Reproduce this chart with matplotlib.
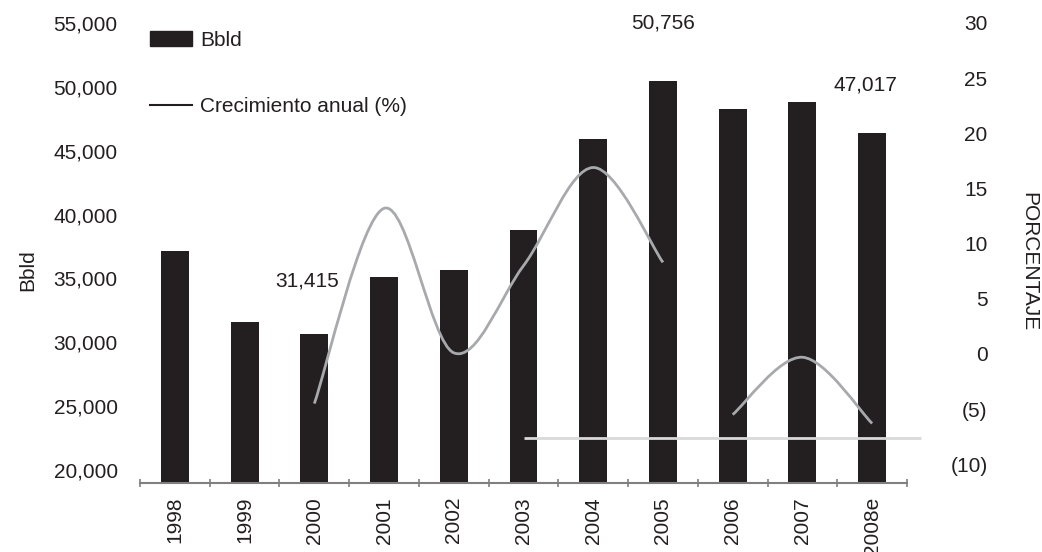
import numpy as np
import matplotlib
matplotlib.use('Agg')
import matplotlib.pyplot as plt
from matplotlib.path import Path
from matplotlib.patches import PathPatch
from matplotlib.lines import Line2D

plt.rcParams['font.family'] = ['Liberation Sans', 'DejaVu Sans']

# data
years = ['1998', '1999', '2000', '2001', '2002', '2003', '2004', '2005', '2006', '2007', '2008e']
bbld = [37150, 31590, 30650, 35110, 35660, 38790, 45920, 50460, 48270, 48810, 46390]

# annual growth (%), drawn as two separate smoothed pieces
growth_years_a = ['2000', '2001', '2002', '2003', '2004', '2005']
growth_a = [-4.5, 13.2, 0.1, 8.0, 16.9, 8.3]
growth_years_b = ['2006', '2007', '2008e']
growth_b = [-5.5, -0.3, -6.3]

# flat light grey series at the bottom
flat_value = -7.6
flat_from = '2003'

annot_labels = ['31,415', '50,756', '47,017']
annot_pos = [(1.9, 34800), (7.0, 55000), (9.9, 50150)]

dark = '#231f20'
grey_line = '#a7a9ac'
axis_grey = '#808080'


def smooth_path(xs, ys):
    # Catmull-Rom style cubic bezier through the points
    pts = np.column_stack([xs, ys]).astype(float)
    n = len(pts)
    verts = [tuple(pts[0])]
    codes = [Path.MOVETO]
    for i in range(n - 1):
        p0 = pts[i - 1] if i > 0 else pts[i]
        p1 = pts[i]
        p2 = pts[i + 1]
        p3 = pts[i + 2] if i + 2 < n else pts[i + 1]
        c1 = p1 + (p2 - p0) / 6
        c2 = p2 - (p3 - p1) / 6
        verts += [tuple(c1), tuple(c2), tuple(p2)]
        codes += [Path.CURVE4] * 3
    return Path(verts, codes)


fig = plt.figure(figsize=(10.42, 5.52), dpi=100)
ax = fig.add_axes([140 / 1042, 1 - 483 / 552, 767 / 1042, 460 / 552])

x = np.arange(len(years))
ax.bar(x, bbld, width=0.4, color=dark, zorder=2)
ax.set_xlim(-0.5, 10.5)
ax.set_ylim(18980, 55000)
ax.set_yticks(range(20000, 55001, 5000))
ax.set_yticklabels(['{:,}'.format(v) for v in range(20000, 55001, 5000)])
ax.tick_params(axis='y', length=0, pad=16, labelsize=15, labelcolor=dark)

ax.set_xticks(x)
ax.set_xticklabels(years, rotation=90, fontsize=15, color=dark)
ax.set_xticks(np.arange(-0.5, 11, 1), minor=True)
ax.tick_params(axis='x', which='major', length=0, pad=10)
ax.tick_params(axis='x', which='minor', direction='inout', length=6, width=1.2, color=axis_grey)

for s in ['top', 'right', 'left']:
    ax.spines[s].set_visible(False)
ax.spines['bottom'].set_color(axis_grey)
ax.spines['bottom'].set_linewidth(1.5)

ax2 = ax.twinx()
ax2.set_ylim(-11.7, 30)
rticks = list(range(-10, 31, 5))
ax2.set_yticks(rticks)
ax2.set_yticklabels(['({})'.format(-v) if v < 0 else str(v) for v in rticks])
ax2.tick_params(axis='y', length=0, pad=58, labelsize=15, labelcolor=dark)
for lab in ax2.get_yticklabels():
    lab.set_horizontalalignment('right')
for s in ax2.spines.values():
    s.set_visible(False)

xa = [years.index(y) for y in growth_years_a]
xb = [years.index(y) for y in growth_years_b]
for xs, ys in [(xa, growth_a), (xb, growth_b)]:
    ax2.add_patch(PathPatch(smooth_path(xs, ys), fill=False, edgecolor=grey_line,
                            linewidth=2, capstyle='butt'))

ax2.hlines(flat_value, years.index(flat_from), x[-1] + 0.7, colors='#d9d9d9',
           linewidth=2, clip_on=False)

for txt, (px, py) in zip(annot_labels, annot_pos):
    ax.text(px, py, txt, ha='center', va='center', fontsize=15, color=dark, clip_on=False)

handles = [plt.Rectangle((0, 0), 1, 1, color=dark), Line2D([], [], color=dark, lw=1.5)]
fig.legend(handles, ['Bbld', 'Crecimiento anual (%)'], loc='upper left',
           bbox_to_anchor=(150 / 1042, 1 - 31 / 552), frameon=False, fontsize=15,
           labelspacing=2.25, handlelength=2.0, handletextpad=0.4, borderpad=0,
           borderaxespad=0, labelcolor=dark)

fig.text(28 / 1042, 1 - 270 / 552, 'Bbld', rotation=90, ha='center', va='center',
         fontsize=15, color=dark)
fig.text(1029 / 1042, 1 - 262 / 552, 'PORCENTAJE', rotation=-90, ha='center', va='center',
         fontsize=15, color=dark)

fig.savefig('out.png', dpi=100)
